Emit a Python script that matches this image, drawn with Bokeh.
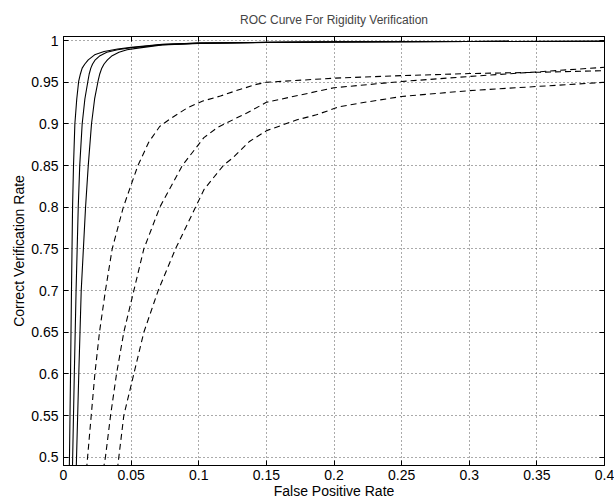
from bokeh.plotting import figure
from bokeh.models import FixedTicker, LinearAxis, Range1d, Title
from bokeh.embed import file_html
from bokeh.resources import INLINE

# ---------------- data ----------------
x_ticks = [0, 0.05, 0.1, 0.15, 0.2, 0.25, 0.3, 0.35, 0.4]
x_tick_labels = ["0", "0.05", "0.1", "0.15", "0.2", "0.25", "0.3", "0.35", "0.4"]
y_ticks = [0.5, 0.55, 0.6, 0.65, 0.7, 0.75, 0.8, 0.85, 0.9, 0.95, 1.0]
y_tick_labels = ["0.5", "0.55", "0.6", "0.65", "0.7", "0.75", "0.8", "0.85", "0.9", "0.95", "1"]
x_lim = (0, 0.4)
y_lim = (0.49, 1.005)

solid1_x = [0.0043, 0.0052, 0.0059, 0.0067, 0.0074, 0.0084, 0.0098, 0.0112, 0.0125, 0.0138, 0.0158,
            0.0183, 0.023, 0.030, 0.040, 0.050, 0.073, 0.10, 0.15, 0.20, 0.30, 0.40]
solid1_y = [0.485, 0.60, 0.70, 0.80, 0.85, 0.90, 0.93, 0.951, 0.960, 0.967, 0.972,
            0.977, 0.983, 0.987, 0.990, 0.992, 0.9955, 0.997, 0.998, 0.9985, 0.999, 0.9993]

solid2_x = [0.0066, 0.0080, 0.0093, 0.0109, 0.0120, 0.0138, 0.0158, 0.0180, 0.0190, 0.0202, 0.0215,
            0.0235, 0.027, 0.032, 0.040, 0.050, 0.073, 0.10, 0.15, 0.20, 0.30, 0.40]
solid2_y = [0.485, 0.60, 0.70, 0.80, 0.85, 0.90, 0.93, 0.951, 0.960, 0.967, 0.972,
            0.977, 0.982, 0.986, 0.989, 0.9915, 0.9953, 0.997, 0.998, 0.9985, 0.999, 0.9993]

solid3_x = [0.0094, 0.0113, 0.0131, 0.0163, 0.0183, 0.0207, 0.0230, 0.0255, 0.0268, 0.0283, 0.0300,
            0.0325, 0.036, 0.041, 0.047, 0.055, 0.073, 0.10, 0.15, 0.20, 0.30, 0.40]
solid3_y = [0.485, 0.60, 0.70, 0.80, 0.85, 0.90, 0.93, 0.951, 0.960, 0.967, 0.972,
            0.977, 0.982, 0.986, 0.989, 0.991, 0.995, 0.9968, 0.9978, 0.9984, 0.999, 0.9993]

dash1_x = [0.0170, 0.0205, 0.0232, 0.0266, 0.031, 0.036, 0.0442, 0.055, 0.063, 0.0711, 0.0784,
           0.0917, 0.103, 0.116, 0.1277, 0.1425, 0.15, 0.20, 0.25, 0.30, 0.35, 0.40]
dash1_y = [0.485, 0.55, 0.60, 0.65, 0.70, 0.75, 0.80, 0.85, 0.878, 0.897, 0.9056,
           0.9195, 0.9275, 0.9335, 0.940, 0.9475, 0.950, 0.955, 0.958, 0.9605, 0.962, 0.964]

dash2_x = [0.0294, 0.031, 0.0348, 0.0392, 0.0446, 0.052, 0.0594, 0.0712, 0.0878, 0.1038, 0.1137,
           0.126, 0.1359, 0.15, 0.20, 0.25, 0.30, 0.35, 0.40]
dash2_y = [0.485, 0.50, 0.55, 0.60, 0.65, 0.70, 0.75, 0.80, 0.85, 0.8836, 0.8956,
           0.9056, 0.9135, 0.926, 0.9435, 0.951, 0.957, 0.9625, 0.968]

dash3_x = [0.0398, 0.0409, 0.0446, 0.052, 0.0594, 0.070, 0.0828, 0.0976, 0.104, 0.1186, 0.125,
           0.1375, 0.1502, 0.1727, 0.187, 0.204, 0.219, 0.25, 0.30, 0.35, 0.40]
dash3_y = [0.485, 0.50, 0.55, 0.60, 0.65, 0.70, 0.75, 0.80, 0.8216, 0.851, 0.859,
           0.879, 0.892, 0.905, 0.911, 0.9207, 0.925, 0.933, 0.940, 0.945, 0.950]

FONT = "Liberation Sans"

p = figure(width=614, height=499,
           x_range=Range1d(*x_lim), y_range=Range1d(*y_lim),
           output_backend="svg", toolbar_location=None,
           title="ROC Curve For Rigidity Verification",
           min_border_left=63, min_border_right=10, min_border_top=35, min_border_bottom=34)

p.title.align = "center"
p.title.text_font = FONT
p.title.text_font_size = "12px"
p.title.text_font_style = "normal"
p.title.standoff = 20

p.background_fill_color = "white"
p.border_fill_color = "white"
p.outline_line_color = "black"
p.outline_line_width = 1

for ax, ticks, labels in ((p.xaxis[0], x_ticks, x_tick_labels), (p.yaxis[0], y_ticks, y_tick_labels)):
    ax.ticker = FixedTicker(ticks=ticks)
    ax.major_label_overrides = {t: l for t, l in zip(ticks, labels)}
    ax.major_label_text_font = FONT
    ax.major_label_text_font_size = "14px"
    ax.major_label_text_color = "black"
    ax.major_tick_in = 5
    ax.major_tick_out = 0
    ax.minor_tick_line_color = None
    ax.axis_line_color = "black"
    ax.major_tick_line_color = "black"

p.xaxis.major_label_standoff = 4
p.yaxis.major_label_standoff = 5

# axis titles as extra Title panels
xlab = Title(text="False Positive Rate", align="center", text_font=FONT, text_font_size="14px",
             text_font_style="normal", text_color="black", standoff=-4)
p.add_layout(xlab, "below")
ylab = Title(text="Correct Verification Rate", align="center", text_font=FONT, text_font_size="14px",
             text_font_style="normal", text_color="black", standoff=4)
p.add_layout(ylab, "left")

right = LinearAxis(ticker=FixedTicker(ticks=y_ticks),
                   major_label_overrides={t: "" for t in y_ticks},
                   major_label_text_color=None, major_label_text_font_size="1px",
                   major_label_standoff=0, major_tick_in=5, major_tick_out=0,
                   minor_tick_line_color=None, axis_line_color="black", major_tick_line_color="black")
p.add_layout(right, "right")
top = LinearAxis(ticker=FixedTicker(ticks=x_ticks),
                 major_label_overrides={t: "" for t in x_ticks},
                 major_label_text_color=None, major_label_text_font_size="1px",
                 major_label_standoff=0, major_tick_in=5, major_tick_out=0,
                 minor_tick_line_color=None, axis_line_color="black", major_tick_line_color="black")
p.add_layout(top, "above")

p.xgrid.ticker = FixedTicker(ticks=x_ticks)
p.ygrid.ticker = FixedTicker(ticks=y_ticks)
for g in (p.xgrid[0], p.ygrid[0]):
    g.grid_line_color = "#555555"
    g.grid_line_dash = "1 3"
    g.grid_line_width = 1

for xs, ys in ((solid1_x, solid1_y), (solid2_x, solid2_y), (solid3_x, solid3_y)):
    p.line(xs, ys, line_color="black", line_width=1.1)
for xs, ys in ((dash1_x, dash1_y), (dash2_x, dash2_y), (dash3_x, dash3_y)):
    p.line(xs, ys, line_color="black", line_width=1.1, line_dash="6 4")

open("out.html", "w").write(file_html(p, INLINE))
